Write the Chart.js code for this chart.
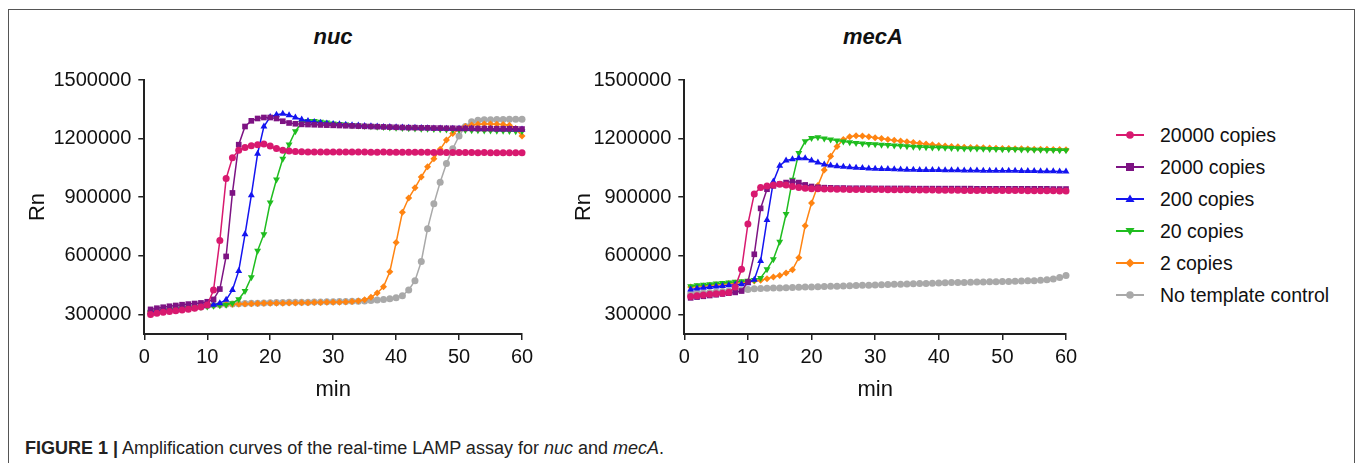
<!DOCTYPE html>
<html>
<head>
<meta charset="utf-8">
<script src="https://cdn.jsdelivr.net/npm/chart.js@4.4.1/dist/chart.umd.min.js"></script>
<style>
  body { margin: 0; width: 1358px; height: 463px; background: #fff; position: relative; overflow: hidden; font-family: "Liberation Sans", Arial, sans-serif; color: #111; }
  .frame { position: absolute; left: 8px; top: 9px; width: 1345px; height: 480px; border: 1.5px solid #555; }
  .title { position: absolute; top: 24px; font-weight: bold; font-style: italic; font-size: 22px; transform: translateX(-50%); }
  canvas { position: absolute; }
  #legend { position: absolute; left: 1116px; top: 119px; }
  .row { height: 32px; display: flex; align-items: center; font-size: 19.5px; white-space: nowrap; }
  .row svg { margin-right: 16px; }
  .caption { position: absolute; left: 25px; top: 438px; font-size: 18px; color: #222; white-space: nowrap; }
</style>
</head>
<body>
<div class="frame"></div>
<div class="title" style="left:333px">nuc</div>
<div class="title" style="left:873px">mecA</div>
<canvas id="nucChart" width="520" height="347" style="left:21px; top:60px"></canvas>
<canvas id="mecaChart" width="518" height="347" style="left:567px; top:60px"></canvas>
<div id="legend"></div>
<div class="caption"><b>FIGURE 1 |</b> Amplification curves of the real-time LAMP assay for <i>nuc</i> and <i>mecA</i>.</div>

<script>
// x values (min)
const minutes = [1,2,3,4,5,6,7,8,9,10,11,12,13,14,15,16,17,18,19,20,
  21,22,23,24,25,26,27,28,29,30,31,32,33,34,35,36,37,38,39,40,
  41,42,43,44,45,46,47,48,49,50,51,52,53,54,55,56,57,58,59,60];

const xTicks = [0, 10, 20, 30, 40, 50, 60];
const yTicks = [300000, 600000, 900000, 1200000, 1500000];

const seriesLabels = ['20000 copies', '2000 copies', '200 copies', '20 copies', '2 copies', 'No template control'];
const seriesColors = ['#d8196f', '#7d1383', '#1414f0', '#1fbd1f', '#ff8412', '#a9a9a9'];

// nuc
const nuc20000 = [300000,306000,311000,315000,319000,323000,327000,332000,338000,348000,
  425000,679000,996000,1102000,1140000,1155000,1164000,1168000,1172000,1162000,
  1150000,1141000,1136000,1134000,1133000,1132000,1132000,1132000,1131000,1131000,
  1131000,1131000,1131000,1131000,1131000,1130000,1130000,1131000,1130000,1130000,
  1130000,1130000,1130000,1130000,1130000,1129000,1130000,1129000,1129000,1129000,
  1129000,1129000,1128000,1129000,1128000,1128000,1128000,1128000,1128000,1128000];
const nuc2000 = [326000,332000,337000,342000,346000,350000,353000,356000,359000,365000,
  377000,430000,597000,922000,1169000,1262000,1291000,1303000,1308000,1308000,
  1303000,1289000,1280000,1276000,1273000,1272000,1271000,1270000,1269000,1268000,
  1267000,1266000,1265000,1264000,1263000,1262000,1261000,1260000,1259000,1258000,
  1257000,1256000,1256000,1255000,1255000,1254000,1254000,1253000,1253000,1252000,
  1252000,1252000,1251000,1251000,1251000,1250000,1250000,1250000,1250000,1249000];
const nuc200 = [312000,316000,320000,324000,327000,330000,333000,336000,339000,343000,
  350000,358000,375000,425000,523000,710000,910000,1123000,1262000,1311000,
  1322000,1327000,1320000,1308000,1298000,1290000,1285000,1281000,1278000,1275000,
  1273000,1271000,1269000,1267000,1265000,1263000,1262000,1260000,1259000,1258000,
  1257000,1256000,1255000,1254000,1253000,1252000,1252000,1251000,1251000,1250000,
  1250000,1250000,1249000,1249000,1249000,1248000,1248000,1248000,1247000,1247000];
const nuc20 = [310000,314000,318000,322000,326000,329000,332000,335000,338000,341000,
  344000,347000,350000,358000,378000,420000,490000,626000,711000,873000,
  991000,1097000,1170000,1238000,1280000,1290000,1290000,1286000,1282000,1278000,
  1275000,1272000,1269000,1267000,1265000,1263000,1261000,1259000,1257000,1256000,
  1254000,1253000,1252000,1251000,1250000,1249000,1248000,1247000,1246000,1245000,
  1244000,1243000,1243000,1242000,1241000,1240000,1240000,1239000,1238000,1238000];
const nuc2 = [312000,316000,320000,324000,328000,332000,335000,338000,341000,344000,
  347000,349000,351000,352000,353000,354000,355000,356000,357000,357000,
  358000,358000,359000,359000,360000,360000,361000,361000,362000,362000,
  363000,364000,366000,369000,375000,388000,410000,442000,519000,668000,
  823000,896000,948000,1004000,1056000,1097000,1145000,1193000,1226000,1248000,
  1262000,1270000,1274000,1275000,1275000,1274000,1272000,1268000,1252000,1213000];
const nucNtc = [314000,318000,322000,326000,330000,333000,336000,339000,342000,345000,
  348000,350000,352000,354000,355000,356000,357000,358000,359000,360000,
  361000,361000,362000,362000,363000,363000,364000,364000,365000,365000,
  366000,366000,367000,368000,369000,372000,374000,377000,380000,386000,
  396000,425000,473000,571000,739000,866000,977000,1073000,1148000,1214000,
  1262000,1286000,1294000,1296000,1297000,1298000,1298000,1299000,1299000,1299000];

// mecA
const meca20000 = [392000,396000,400000,403000,406000,409000,413000,440000,531000,763000,
  917000,950000,958000,963000,967000,963000,955000,950000,946000,944000,
  943000,942000,942000,941000,941000,940000,940000,940000,939000,939000,
  939000,938000,938000,938000,938000,937000,937000,937000,937000,936000,
  936000,936000,936000,935000,935000,935000,935000,935000,934000,934000,
  934000,934000,934000,933000,933000,933000,933000,933000,932000,932000];
const meca2000 = [385000,389000,393000,397000,401000,405000,409000,413000,420000,466000,
  608000,843000,941000,958000,967000,975000,980000,975000,963000,955000,
  951000,949000,948000,947000,947000,946000,946000,946000,946000,945000,
  945000,945000,945000,945000,945000,944000,944000,944000,944000,944000,
  944000,944000,944000,944000,944000,943000,943000,943000,943000,943000,
  943000,943000,943000,943000,943000,943000,943000,942000,942000,942000];
const meca200 = [428000,433000,437000,440000,443000,446000,449000,452000,455000,460000,
  478000,574000,783000,980000,1061000,1088000,1095000,1099000,1099000,1088000,
  1078000,1068000,1063000,1059000,1056000,1053000,1051000,1049000,1047000,1046000,
  1045000,1044000,1043000,1042000,1041000,1041000,1040000,1040000,1039000,1039000,
  1038000,1038000,1038000,1037000,1037000,1037000,1036000,1036000,1036000,1035000,
  1035000,1035000,1034000,1034000,1034000,1033000,1033000,1033000,1032000,1032000];
const meca20 = [445000,449000,452000,455000,458000,461000,464000,467000,470000,473000,
  477000,487000,531000,583000,672000,814000,989000,1126000,1186000,1203000,
  1207000,1200000,1195000,1190000,1185000,1181000,1178000,1175000,1173000,1171000,
  1169000,1167000,1165000,1163000,1161000,1159000,1157000,1156000,1155000,1154000,
  1153000,1152000,1151000,1150000,1149000,1149000,1148000,1147000,1147000,1146000,
  1145000,1145000,1144000,1144000,1143000,1143000,1142000,1142000,1141000,1140000];
const meca2 = [440000,443000,446000,449000,452000,455000,458000,461000,464000,467000,
  471000,475000,483000,492000,500000,512000,529000,590000,754000,870000,
  960000,1040000,1110000,1160000,1195000,1210000,1215000,1214000,1210000,1205000,
  1200000,1195000,1191000,1188000,1184000,1180000,1176000,1172000,1168000,1165000,
  1162000,1160000,1158000,1156000,1155000,1154000,1153000,1152000,1151000,1150000,
  1149000,1148000,1148000,1147000,1146000,1146000,1145000,1144000,1144000,1143000];
const mecaNtc = [405000,408000,410000,413000,415000,418000,420000,422000,425000,428000,
  431000,433000,434000,435000,436000,437000,438000,439000,440000,441000,
  442000,443000,444000,445000,446000,447000,448000,449000,450000,451000,
  452000,453000,454000,455000,456000,457000,458000,459000,460000,461000,
  462000,463000,464000,464000,465000,466000,466000,467000,468000,469000,
  469000,470000,471000,472000,473000,475000,478000,482000,489000,500000];

// marker per series
const markers = [
  { style: 'circle', radius: 3.5, rotation: 0 },
  { style: 'rect', radius: 4, rotation: 0 },
  { style: 'triangle', radius: 4, rotation: 0 },
  { style: 'triangle', radius: 4, rotation: 180 },
  { style: 'rectRot', radius: 3.5, rotation: 0 },
  { style: 'circle', radius: 3.5, rotation: 0 }
];

Chart.defaults.font.family = '"Liberation Sans", Arial, sans-serif';
Chart.defaults.color = '#111';

function buildChart(id, allValues, yWidth) {
  return new Chart(document.getElementById(id), {
    type: 'line',
    data: {
      datasets: allValues.map((values, i) => ({
        label: seriesLabels[i],
        data: values.map((v, j) => ({ x: minutes[j], y: v })),
        borderColor: seriesColors[i],
        backgroundColor: seriesColors[i],
        borderWidth: 1.5,
        pointStyle: markers[i].style,
        pointRadius: markers[i].radius,
        pointRotation: markers[i].rotation,
        pointBorderWidth: 0,
        tension: 0,
        clip: false
      }))
    },
    options: {
      responsive: false,
      animation: false,
      layout: { padding: { top: 20, right: 19, left: 0, bottom: 0 } },
      plugins: { legend: { display: false }, tooltip: { enabled: false } },
      scales: {
        x: {
          type: 'linear',
          min: 0,
          max: 60,
          afterBuildTicks: s => { s.ticks = xTicks.map(v => ({ value: v })); },
          afterFit: s => { s.height = 73; },
          border: { color: '#222', width: 2 },
          grid: { drawOnChartArea: false, tickLength: 6, color: '#222', lineWidth: 1.5 },
          ticks: { padding: 5, font: { size: 20 }, maxRotation: 0 },
          title: { display: true, text: 'min', font: { size: 22 } }
        },
        y: {
          type: 'linear',
          min: 200000,
          max: 1500000,
          afterBuildTicks: s => { s.ticks = yTicks.map(v => ({ value: v })); },
          afterFit: s => { s.width = yWidth; },
          border: { color: '#222', width: 2 },
          grid: { drawOnChartArea: false, tickLength: 6, color: '#222', lineWidth: 1.5 },
          ticks: { padding: 7, font: { size: 20 }, callback: v => String(v) },
          title: { display: true, text: 'Rn', font: { size: 22 } }
        }
      }
    }
  });
}

buildChart('nucChart', [nuc20000, nuc2000, nuc200, nuc20, nuc2, nucNtc], 123.3);
buildChart('mecaChart', [meca20000, meca2000, meca200, meca20, meca2, mecaNtc], 117.3);

// legend: line with marker, then label
function markerSvg(m, color) {
  const cx = 14, cy = 7;
  if (m.style === 'rect') return `<rect x="${cx - 4}" y="${cy - 4}" width="8" height="8" fill="${color}"/>`;
  if (m.style === 'rectRot') return `<polygon points="${cx},${cy - 4.5} ${cx + 4.5},${cy} ${cx},${cy + 4.5} ${cx - 4.5},${cy}" fill="${color}"/>`;
  if (m.style === 'triangle' && m.rotation === 180) return `<polygon points="${cx - 4.5},${cy - 3} ${cx + 4.5},${cy - 3} ${cx},${cy + 4.5}" fill="${color}"/>`;
  if (m.style === 'triangle') return `<polygon points="${cx - 4.5},${cy + 3} ${cx + 4.5},${cy + 3} ${cx},${cy - 4.5}" fill="${color}"/>`;
  return `<circle cx="${cx}" cy="${cy}" r="3.8" fill="${color}"/>`;
}

const legend = document.getElementById('legend');
seriesLabels.forEach((label, i) => {
  const row = document.createElement('div');
  row.className = 'row';
  row.innerHTML = `<svg width="28" height="14"><line x1="0" y1="7" x2="28" y2="7" stroke="${seriesColors[i]}" stroke-width="2"/>${markerSvg(markers[i], seriesColors[i])}</svg><span>${label}</span>`;
  legend.appendChild(row);
});
</script>
</body>
</html>
